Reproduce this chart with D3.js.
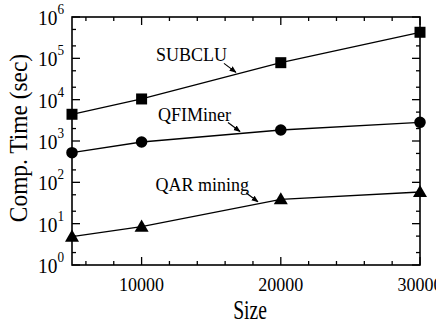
<!DOCTYPE html>
<html>
<head>
<meta charset="utf-8">
<script src="https://cdn.jsdelivr.net/npm/d3@7"></script>
<style>
  html, body { margin: 0; padding: 0; background: #fff; }
  svg { display: block; }
</style>
</head>
<body>
<svg id="chart" width="436" height="324"></svg>
<script>
// ---- data ----
const sizes = [5000, 10000, 20000, 30000];
const subcluTimes = [4430, 10400, 78500, 427000];
const qfiminerTimes = [521, 946, 1846, 2836];
const qarTimes = [4.84, 8.45, 38.9, 58.4];
const seriesNames = ["SUBCLU", "QFIMiner", "QAR mining"];
const seriesMarkers = ["square", "circle", "triangle"];
const xTickLabels = ["10000", "20000", "30000"];
const xMajorTicks = [10000, 20000, 30000];
const xMinorTicks = [6000, 8000, 12000, 14000, 16000, 18000, 22000, 24000, 26000, 28000];
const yExponents = [0, 1, 2, 3, 4, 5, 6];
const labelAnchorSizes = [16780, 17070, 18360];

const xTitle = "Size";
const yTitle = "Comp. Time (sec)";

// ---- layout ----
const FONT = "'Liberation Serif', 'Times New Roman', Times, serif";
const m = { left: 72, top: 17, right: 420, bottom: 265 };
const svg = d3.select("#chart");

const x = d3.scaleLinear().domain([5000, 30000]).range([m.left, m.right]);
const y = d3.scaleLog().domain([1, 1e6]).range([m.bottom, m.top]);

const series = [subcluTimes, qfiminerTimes, qarTimes].map((vals, i) => ({
  name: seriesNames[i], marker: seriesMarkers[i],
  points: sizes.map((s, j) => ({ x: s, y: vals[j] }))
}));

const yMinor = [];
for (let e = 0; e < 6; e++) { yMinor.push(2 * Math.pow(10, e)); yMinor.push(5 * Math.pow(10, e)); }
const yMajor = yExponents.map(e => Math.pow(10, e));

const majorLen = 8, minorLen = 4;
const axisG = svg.append("g").attr("stroke", "#000").attr("stroke-width", 1.3);

function xTicks(vals, len) {
  axisG.selectAll(null).data(vals).enter().append("line")
    .attr("x1", d => x(d)).attr("x2", d => x(d))
    .attr("y1", m.bottom).attr("y2", m.bottom - len);
  axisG.selectAll(null).data(vals).enter().append("line")
    .attr("x1", d => x(d)).attr("x2", d => x(d))
    .attr("y1", m.top).attr("y2", m.top + len);
}
xTicks(xMajorTicks, majorLen);
xTicks(xMinorTicks, minorLen);

function yTicks(vals, len) {
  axisG.selectAll(null).data(vals).enter().append("line")
    .attr("y1", d => y(d)).attr("y2", d => y(d))
    .attr("x1", m.left).attr("x2", m.left + len);
  axisG.selectAll(null).data(vals).enter().append("line")
    .attr("y1", d => y(d)).attr("y2", d => y(d))
    .attr("x1", m.right).attr("x2", m.right - len);
}
yTicks(yMajor, majorLen);
yTicks(yMinor, minorLen);

svg.append("rect")
  .attr("x", m.left).attr("y", m.top)
  .attr("width", m.right - m.left).attr("height", m.bottom - m.top)
  .attr("fill", "none").attr("stroke", "#000").attr("stroke-width", 1.6);

// y tick labels
yExponents.forEach(e => {
  const t = svg.append("text")
    .attr("transform", `translate(${m.left - 8},${y(Math.pow(10, e)) + 8}) scale(0.88,1)`)
    .attr("text-anchor", "end").attr("font-size", 22)
    .attr("font-family", FONT).attr("fill", "#000");
  t.append("tspan").text("10");
  t.append("tspan").attr("dy", -11).attr("font-size", 15).text(String(e));
});

// x tick labels
svg.selectAll(".xl").data(xMajorTicks).enter().append("text")
  .attr("x", d => x(d)).attr("y", 291)
  .attr("text-anchor", "middle").attr("font-size", 18)
  .attr("font-family", FONT).attr("fill", "#000")
  .text((d, i) => xTickLabels[i]);

// axis titles
svg.append("text")
  .attr("transform", `translate(${(m.left + m.right) / 2 + 4},319) scale(0.7,1)`)
  .attr("text-anchor", "middle").attr("font-size", 28)
  .attr("font-family", FONT).attr("fill", "#000").text(xTitle);
svg.append("text")
  .attr("transform", `translate(27, ${(m.top + m.bottom) / 2 - 3}) rotate(-90) scale(0.9,1)`)
  .attr("text-anchor", "middle").attr("font-size", 26)
  .attr("font-family", FONT).attr("fill", "#000").text(yTitle);

// lines
const line = d3.line().x(d => x(d.x)).y(d => y(d.y));
series.forEach(s => {
  svg.append("path").attr("d", line(s.points))
    .attr("fill", "none").attr("stroke", "#000").attr("stroke-width", 1.3);
});

// markers
const symType = { square: d3.symbolSquare, circle: d3.symbolCircle, triangle: d3.symbolTriangle };
const symSize = { square: 121, circle: 105, triangle: 85 };
series.forEach(s => {
  svg.selectAll(null).data(s.points).enter().append("path")
    .attr("transform", d => `translate(${x(d.x)},${y(d.y) + (s.marker === "triangle" ? 1 : 0)})`)
    .attr("d", d3.symbol().type(symType[s.marker]).size(symSize[s.marker])())
    .attr("fill", "#000");
});

// annotation labels with arrows
const defs = svg.append("defs");
defs.append("marker").attr("id", "ah").attr("viewBox", "0 0 10 10")
  .attr("refX", 9).attr("refY", 5).attr("markerWidth", 7).attr("markerHeight", 7)
  .attr("markerUnits", "userSpaceOnUse").attr("orient", "auto")
  .append("path").attr("d", "M0,1 L10,5 L0,9 Z").attr("fill", "#000");

function interpLog(pts, xv) {
  for (let i = 0; i < pts.length - 1; i++) {
    if (xv >= pts[i].x && xv <= pts[i + 1].x) {
      const t = (xv - pts[i].x) / (pts[i + 1].x - pts[i].x);
      return Math.pow(10, Math.log10(pts[i].y) + t * (Math.log10(pts[i + 1].y) - Math.log10(pts[i].y)));
    }
  }
  return pts[pts.length - 1].y;
}

series.forEach((s, i) => {
  const tipX = x(labelAnchorSizes[i]);
  const tipY = y(interpLog(s.points, labelAnchorSizes[i])) - 2;
  const tailX = tipX - 12, tailY = tipY - 9;
  svg.append("line")
    .attr("x1", tailX).attr("y1", tailY).attr("x2", tipX).attr("y2", tipY)
    .attr("stroke", "#000").attr("stroke-width", 1.2).attr("marker-end", "url(#ah)");
  svg.append("text").attr("x", tailX + 3).attr("y", tailY - 2)
    .attr("text-anchor", "end").attr("font-size", 18)
    .attr("font-family", FONT).attr("fill", "#000").text(s.name);
});
</script>
</body>
</html>
